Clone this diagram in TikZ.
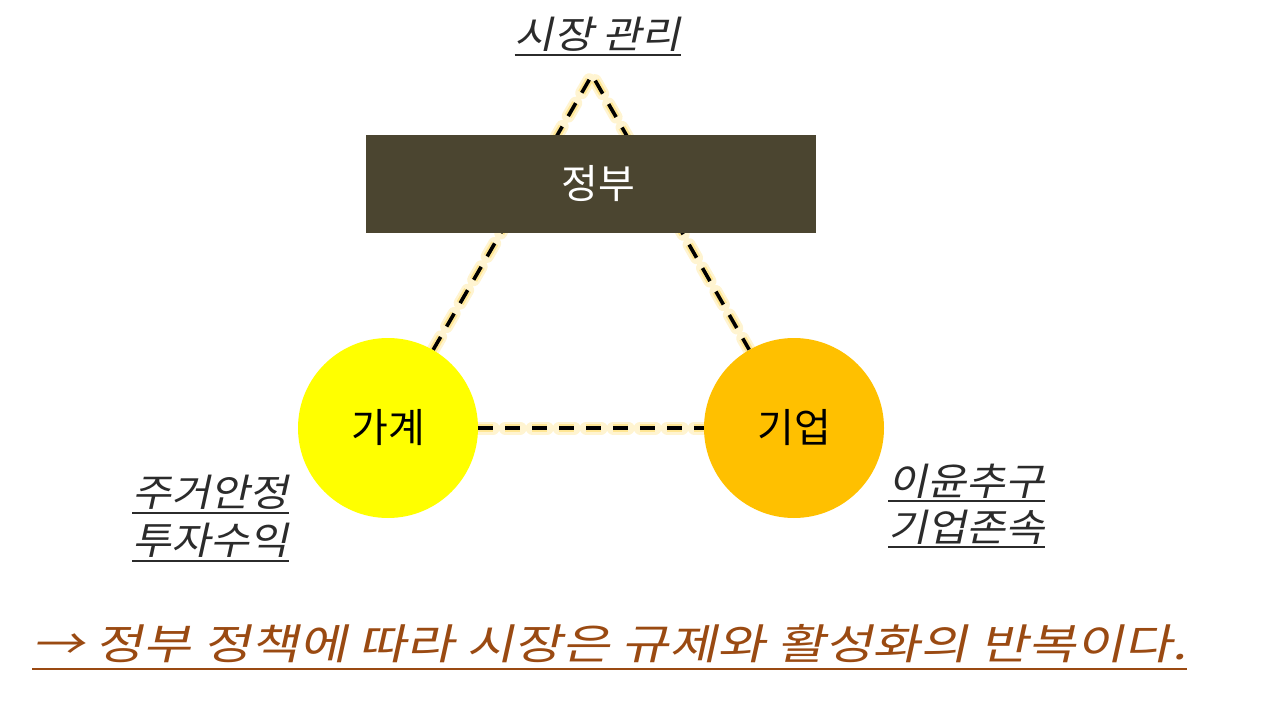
\documentclass[tikz,border=0pt]{standalone}
\usepackage{fontspec}
\setmainfont{Noto Sans CJK KR}
\newfontfamily\krit[FakeSlant=0.22,FakeStretch=1.12]{Noto Sans CJK KR}
\newfontfamily\krwide[FakeSlant=0.22,FakeStretch=1.24]{Noto Sans CJK KR}
\usetikzlibrary{backgrounds,calc}
\definecolor{govbox}{HTML}{4B4530}
\definecolor{homefill}{HTML}{FFFF00}
\definecolor{firmfill}{HTML}{FFC000}
\definecolor{glowc}{HTML}{FFE07A}
\definecolor{labelc}{HTML}{2B2B2B}
\definecolor{brownc}{HTML}{9A4A12}
\tikzset{
  govstyle/.style={draw=none, fill=govbox, minimum width=450pt, minimum height=98pt, inner sep=0pt, text=white, font=\fontsize{40}{44}\selectfont},
  circstyle/.style={circle, draw=none, minimum size=180pt, inner sep=0pt, font=\fontsize{40}{44}\selectfont},
  glowwide/.style={glowc, line width=13pt, opacity=0.35, dash pattern=on 15pt off 12pt, line cap=round},
  glownarrow/.style={glowc, line width=8pt, opacity=0.7, dash pattern=on 15pt off 12pt},
  dashblack/.style={black, line width=3.6pt, dash pattern=on 15pt off 12pt},
  lbl/.style={inner sep=0pt, anchor=base west, text=labelc, font=\krit\fontsize{38}{40}\selectfont},
  uline/.style={labelc, line width=1.6pt},
}
\begin{document}
\begin{tikzpicture}[x=1pt,y=-1pt]
\useasboundingbox (0,0) rectangle (1280,706);
\node[govstyle] (gov) at (591,184) {\hspace*{14pt}정부};
\node[circstyle, fill=homefill] (home) at (388,428) {가계};
\node[circstyle, fill=firmfill] (firm) at (794,428) {기업};
\coordinate (apex) at (592,75);
\begin{scope}[on background layer]
  \foreach \s in {glowwide,glownarrow,dashblack}{
    \draw[\s] (home) -- (apex) -- (firm);
    \draw[\s] (home) -- (firm);
  }
\end{scope}
% labels
\node[lbl, anchor=base] (mkt) at (598,49) {시장 관리};
\draw[uline] ($(mkt.base west)+(0,6)$) -- ($(mkt.base east)+(0,6)$);
\node[lbl] (h1) at (132,506) {주거안정};
\draw[uline] ($(h1.base west)+(0,7)$) -- ($(h1.base east)+(0,7)$);
\node[lbl] (h2) at (132,554) {투자수익};
\draw[uline] ($(h2.base west)+(0,7)$) -- ($(h2.base east)+(0,7)$);
\node[lbl] (f1) at (888,495) {이윤추구};
\draw[uline] ($(f1.base west)+(0,6)$) -- ($(f1.base east)+(0,6)$);
\node[lbl] (f2) at (888,541) {기업존속};
\draw[uline] ($(f2.base west)+(0,6)$) -- ($(f2.base east)+(0,6)$);
\node[lbl, text=brownc, font=\krwide\fontsize{42}{44}\selectfont] (concl) at (32,659) {→ 정부 정책에 따라 시장은 규제와 활성화의 반복이다.};
\draw[brownc, line width=2pt] ($(concl.base west)+(0,10)$) -- ($(concl.base east)+(0,10)$);
\end{tikzpicture}
\end{document}
